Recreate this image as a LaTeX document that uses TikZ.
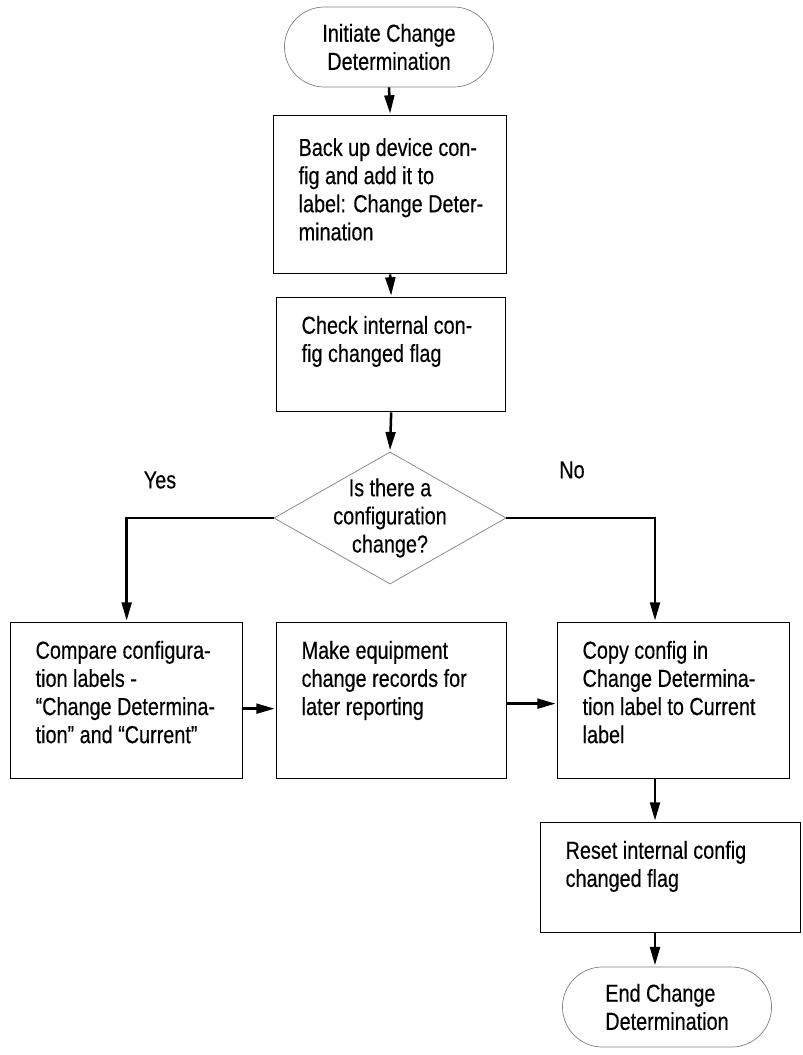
\documentclass[tikz,border=0pt]{standalone}
\usepackage{fontspec}
\setmainfont{Liberation Sans}[FakeStretch=0.805, FakeBold=0.3]
\usetikzlibrary{shapes.geometric,shapes.misc,arrows.meta}

\newcommand{\steptext}[3]{\parbox[t][#2][t]{#1}{\vspace*{13pt}\raggedright\leftskip=0.625cm\relax #3}}

\tikzset{
  stepbox/.style={draw, line width=0.9pt, inner sep=0pt, anchor=north west},
  endbox/.style={draw=gray, line width=0.5pt, rounded rectangle, minimum width=5.225cm, minimum height=2cm, inner sep=0pt},
  askbox/.style={draw=gray, line width=0.5pt, diamond, aspect=1.76, minimum width=5.8cm, minimum height=3.3cm, inner sep=0pt},
  flow/.style={line width=1.8pt, shorten >=1pt, -{Triangle[length=13pt,width=7pt]}}
}

\begin{document}
\begin{tikzpicture}[x=0.025cm, y=-0.025cm, font=\fontsize{17.5pt}{20pt}\selectfont]
  \useasboundingbox (0,0) rectangle (803,1055);

  \node[endbox, align=center] (start) at (389,47) {Initiate Change\\Determination};
  \node[stepbox] (backup) at (273,115) {\steptext{5.825cm}{3.95cm}{\vspace*{3pt}Back up device con-\\fig and add it to\\label: Change Deter-\\mination}};
  \node[stepbox] (check) at (276,297) {\steptext{5.725cm}{2.85cm}{Check internal con-\\fig changed flag}};

  \node[askbox] (decision) at (390,518) {};
  \node[align=center] (asktext) at (decision) {Is there a\\configuration\\change?};
  \node (yes) at (160,480) {Yes};
  \node (no) at (572,470) {No};
  \coordinate (nojoin) at (655,518);

  \node[stepbox] (compare) at (10,622) {\steptext{5.8cm}{3.9cm}{Compare configura-\\tion labels -\\“Change Determina-\\tion” and “Current”}};
  \node[stepbox] (records) at (276,622) {\steptext{5.75cm}{3.9cm}{Make equipment\\change records for\\later reporting}};
  \node[stepbox] (copy) at (557,622) {\steptext{5.8cm}{3.9cm}{Copy config in\\Change Determina-\\tion label to Current\\label}};
  \node[stepbox] (reset) at (540,822) {\steptext{6.5cm}{2.75cm}{Reset internal config\\changed flag}};
  \node[endbox, align=left] (end) at (667,1007) {End Change\\Determination};

  \draw[flow] (start.south) -- (backup.north);
  \draw[flow] (backup.south) -- (check.north);
  \draw[flow] (check.south) -- (decision.north);
  \draw[flow] (decision.west) -| (compare.north);
  \draw[flow] (decision.east) -- (nojoin) -- (nojoin |- copy.north);
  \draw[flow] ([yshift=-0.2cm]compare.east) -- ([yshift=-0.2cm]records.west);
  \draw[flow] ([yshift=-0.075cm]records.east) -- ([yshift=-0.075cm]copy.west);
  \draw[flow] (nojoin |- copy.south) -- (nojoin |- reset.north);
  \draw[flow] (nojoin |- reset.south) -- (nojoin |- end.north);
\end{tikzpicture}
\end{document}
